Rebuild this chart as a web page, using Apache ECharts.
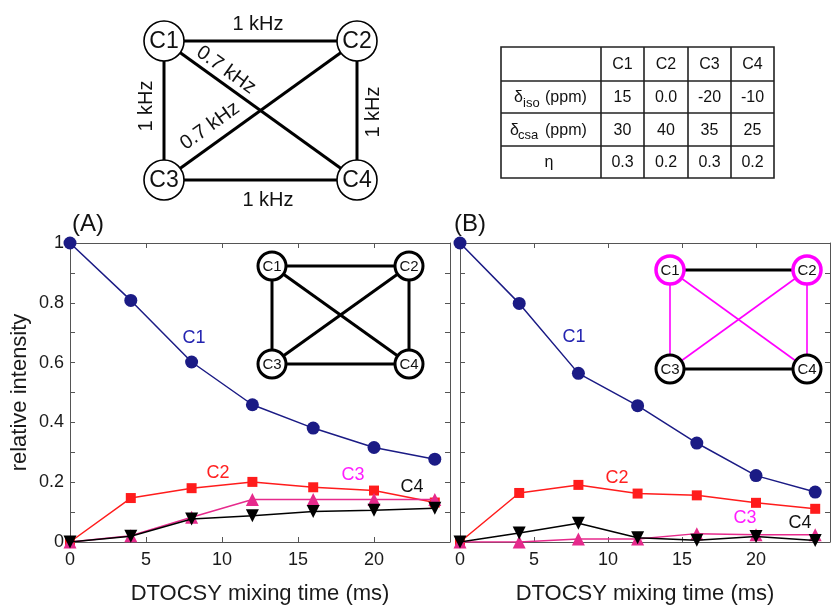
<!DOCTYPE html>
<html>
<head>
<meta charset="utf-8">
<script src="https://cdn.jsdelivr.net/npm/echarts@6/dist/echarts.min.js"></script>
<style>
  html, body { margin: 0; padding: 0; background: #fff; }
  #chart { width: 833px; height: 606px; }
</style>
</head>
<body>
<div id="chart"></div>
<script>
// Mixing times (ms)
const mixTimes = [0, 4, 8, 12, 16, 20, 24];

// Panel (A): all four couplings active
const a_C1 = [1.0, 0.808, 0.602, 0.459, 0.381, 0.316, 0.277];
const a_C2 = [0.0, 0.147, 0.180, 0.201, 0.183, 0.172, 0.132];
const a_C3 = [0.0, 0.021, 0.083, 0.142, 0.142, 0.142, 0.142];
const a_C4 = [0.0, 0.019, 0.077, 0.088, 0.102, 0.106, 0.113];

// Panel (B): selective transfer
const b_C1 = [1.0, 0.798, 0.564, 0.456, 0.331, 0.222, 0.167];
const b_C2 = [0.0, 0.164, 0.191, 0.162, 0.156, 0.131, 0.111];
const b_C3 = [0.0, 0.0, 0.010, 0.010, 0.028, 0.024, 0.024];
const b_C4 = [0.0, 0.030, 0.063, 0.014, 0.006, 0.018, 0.005];

// Table of chemical shift parameters
const spinNames = ['C1', 'C2', 'C3', 'C4'];
const deltaIso = ['15', '0.0', '-20', '-10'];
const deltaCsa = ['30', '40', '35', '25'];
const etaVals = ['0.3', '0.2', '0.3', '0.2'];

// Coupling labels for the spin network
const jLabelSide = '1 kHz';
const jLabelDiag = '0.7 kHz';

const FONT = '"Liberation Sans", Arial, Helvetica, sans-serif';
const AXIS_COLOR = '#555555';

const colors = {
  C1: '#1b1b85',
  C2: '#ff1c1c',
  C3: '#e62a8c',
  C4: '#000000'
};
const labelColors = {
  C1: '#2323b0',
  C2: '#ff2020',
  C3: '#ff1cff',
  C4: '#111111'
};

function pairs(ys) { return mixTimes.map((t, i) => [t, ys[i]]); }

function xAxes(grid, bottom) {
  const base = {
    gridIndex: grid, type: 'value', min: 0, max: 25, interval: 5,
    axisLine: { show: true, onZero: false, lineStyle: { color: AXIS_COLOR, width: 1 } },
    axisTick: { show: true, inside: true, length: 5, lineStyle: { color: AXIS_COLOR } },
    splitLine: { show: false }
  };
  return bottom ? Object.assign({}, base, {
    position: 'bottom',
    axisLabel: { fontFamily: FONT, fontSize: 18, color: '#1a1a1a', margin: 9,
      formatter: v => (v < 25 ? String(v) : '') },
    name: 'DTOCSY mixing time (ms)', nameLocation: 'middle', nameGap: 41,
    nameTextStyle: { fontFamily: FONT, fontSize: 22, color: '#1a1a1a' }
  }) : Object.assign({}, base, { position: 'top', axisLabel: { show: false } });
}

function yAxes(grid, left, withLabels) {
  const base = {
    gridIndex: grid, type: 'value', min: 0, max: 1, interval: 0.1,
    axisLine: { show: true, onZero: false, lineStyle: { color: AXIS_COLOR, width: 1 } },
    axisTick: { show: true, inside: true, length: 5, lineStyle: { color: AXIS_COLOR } },
    splitLine: { show: false }
  };
  if (!left) return Object.assign({}, base, { position: 'right', axisLabel: { show: false } });
  const ax = Object.assign({}, base, {
    position: 'left',
    axisLabel: withLabels ? {
      fontFamily: FONT, fontSize: 18, color: '#1a1a1a', margin: 6,
      formatter: v => {
        const k = Math.round(v * 10);
        return k % 2 === 0 ? String(k / 10) : '';
      }
    } : { show: false }
  });
  if (withLabels) {
    ax.name = 'relative intensity';
    ax.nameLocation = 'middle';
    ax.nameGap = 39;
    ax.nameTextStyle = { fontFamily: FONT, fontSize: 22, color: '#1a1a1a' };
  }
  return ax;
}

function seriesFor(grid, xi, yi, data) {
  const defs = [
    { key: 'C1', ys: data[0], symbol: 'circle', size: 13, rot: 0 },
    { key: 'C2', ys: data[1], symbol: 'rect', size: 10, rot: 0 },
    { key: 'C3', ys: data[2], symbol: 'triangle', size: 13, rot: 0 },
    { key: 'C4', ys: data[3], symbol: 'triangle', size: 13, rot: 180 }
  ];
  return defs.map((d, i) => ({
    name: d.key, type: 'line', xAxisIndex: xi, yAxisIndex: yi,
    data: pairs(d.ys), symbol: d.symbol, symbolSize: d.size, symbolRotate: d.rot,
    showAllSymbol: true, animation: false, z: 2 + i,
    lineStyle: { color: colors[d.key], width: 1.5 },
    itemStyle: { color: colors[d.key], borderWidth: 0 }
  }));
}

// ---------- graphic helpers ----------
const g = [];
function txt(x, y, text, size, color, opts) {
  opts = opts || {};
  g.push({
    type: 'text', x: x, y: y, rotation: opts.rotation || 0, z: 20,
    style: {
      text: text, font: size + 'px ' + FONT, fill: color || '#111',
      align: opts.align || 'center', verticalAlign: opts.va || 'middle'
    }
  });
}
function line(x1, y1, x2, y2, color, w) {
  g.push({ type: 'line', z: 18, shape: { x1, y1, x2, y2 },
    style: { stroke: color, lineWidth: w, lineCap: 'butt' } });
}
function circ(cx, cy, r, stroke, w) {
  g.push({ type: 'circle', z: 19, shape: { cx, cy, r },
    style: { fill: '#fff', stroke: stroke, lineWidth: w } });
}

// Spin network with coupling strengths
(function () {
  const p = { C1: [164, 41], C2: [357, 41], C3: [164, 180], C4: [357, 180] };
  line(p.C1[0], p.C1[1], p.C2[0], p.C2[1], '#000', 3);
  line(p.C3[0], p.C3[1], p.C4[0], p.C4[1], '#000', 3);
  line(p.C1[0], p.C1[1], p.C3[0], p.C3[1], '#000', 3);
  line(p.C2[0], p.C2[1], p.C4[0], p.C4[1], '#000', 3);
  line(p.C1[0], p.C1[1], p.C4[0], p.C4[1], '#000', 3);
  line(p.C3[0], p.C3[1], p.C2[0], p.C2[1], '#000', 3);
  spinNames.forEach(n => {
    circ(p[n][0], p[n][1], 20, '#000', 1.6);
    txt(p[n][0], p[n][1] + 1, n, 23, '#111');
  });
  const ang = Math.atan2(p.C4[1] - p.C1[1], p.C4[0] - p.C1[0]);
  txt(258, 24, jLabelSide, 20, '#111');
  txt(268, 200, jLabelSide, 20, '#111');
  txt(146, 106, jLabelSide, 20, '#111', { rotation: Math.PI / 2 });
  txt(373, 112, jLabelSide, 20, '#111', { rotation: Math.PI / 2 });
  txt(226, 70, jLabelDiag, 20, '#111', { rotation: -ang });
  txt(210, 126, jLabelDiag, 20, '#111', { rotation: ang });
})();

// Parameter table
(function () {
  const xs = [501, 601, 644, 688, 731, 774];
  const ys = [47, 81, 113, 146, 178];
  g.push({ type: 'rect', z: 18, shape: { x: xs[0], y: ys[0], width: xs[5] - xs[0], height: ys[4] - ys[0] },
    style: { fill: '#fff', stroke: '#222', lineWidth: 1.6 } });
  for (let i = 1; i < xs.length - 1; i++) line(xs[i], ys[0], xs[i], ys[4], '#222', 1.6);
  for (let j = 1; j < ys.length - 1; j++) line(xs[0], ys[j], xs[5], ys[j], '#222', 1.6);
  const rowsVals = [spinNames, deltaIso, deltaCsa, etaVals];
  rowsVals.forEach((row, j) => {
    const cy = (ys[j] + ys[j + 1]) / 2 + 1;
    row.forEach((v, i) => txt((xs[i + 1] + xs[i + 2]) / 2, cy, v, 16, '#111'));
  });
  const r2 = (ys[1] + ys[2]) / 2 + 1, r3 = (ys[2] + ys[3]) / 2 + 1, r4 = (ys[3] + ys[4]) / 2 + 1;
  txt(514, r2, 'δ', 16, '#111', { align: 'left' });
  txt(523, r2 + 5, 'iso', 13, '#111', { align: 'left' });
  txt(545, r2, '(ppm)', 16, '#111', { align: 'left' });
  txt(510, r3, 'δ', 16, '#111', { align: 'left' });
  txt(518, r3 + 5, 'csa', 13, '#111', { align: 'left' });
  txt(545, r3, '(ppm)', 16, '#111', { align: 'left' });
  txt(549, r4, 'η', 16, '#111');
})();

// Inset networks
(function () {
  const a = { C1: [272, 266], C2: [409, 266], C3: [272, 364], C4: [409, 364] };
  [['C1', 'C2'], ['C3', 'C4'], ['C1', 'C3'], ['C2', 'C4'], ['C1', 'C4'], ['C3', 'C2']].forEach(e =>
    line(a[e[0]][0], a[e[0]][1], a[e[1]][0], a[e[1]][1], '#000', 3));
  spinNames.forEach(n => { circ(a[n][0], a[n][1], 14, '#000', 3); txt(a[n][0], a[n][1] + 1, n, 15, '#111'); });

  const b = { C1: [670, 270], C2: [807, 270], C3: [670, 369], C4: [807, 369] };
  const M = '#ff00ff';
  [['C1', 'C3'], ['C2', 'C4'], ['C1', 'C4'], ['C3', 'C2']].forEach(e =>
    line(b[e[0]][0], b[e[0]][1], b[e[1]][0], b[e[1]][1], M, 1.6));
  line(b.C1[0], b.C1[1], b.C2[0], b.C2[1], '#000', 3);
  line(b.C3[0], b.C3[1], b.C4[0], b.C4[1], '#000', 3);
  circ(b.C1[0], b.C1[1], 14, M, 3.5);
  circ(b.C2[0], b.C2[1], 14, M, 3.5);
  circ(b.C3[0], b.C3[1], 14, '#000', 3);
  circ(b.C4[0], b.C4[1], 14, '#000', 3);
  spinNames.forEach(n => txt(b[n][0], b[n][1] + 1, n, 15, '#111'));
})();

// Panel letters and curve labels
txt(88, 224, '(A)', 24, '#111');
txt(470, 224, '(B)', 24, '#111');
txt(194, 338, 'C1', 18, labelColors.C1);
txt(218, 473, 'C2', 18, labelColors.C2);
txt(353, 475, 'C3', 18, labelColors.C3);
txt(412, 487, 'C4', 18, labelColors.C4);
txt(574, 337, 'C1', 18, labelColors.C1);
txt(617, 478, 'C2', 18, labelColors.C2);
txt(745, 518, 'C3', 18, labelColors.C3);
txt(800, 523, 'C4', 18, labelColors.C4);

const option = {
  backgroundColor: '#ffffff',
  animation: false,
  grid: [
    { left: 70, top: 243, width: 380, height: 300, containLabel: false },
    { left: 460, top: 243, width: 380, height: 300, containLabel: false }
  ],
  xAxis: [xAxes(0, true), xAxes(0, false), xAxes(1, true), xAxes(1, false)],
  yAxis: [yAxes(0, true, true), yAxes(0, false), yAxes(1, true, false), yAxes(1, false)],
  series: [].concat(
    seriesFor(0, 0, 0, [a_C1, a_C2, a_C3, a_C4]),
    seriesFor(1, 2, 2, [b_C1, b_C2, b_C3, b_C4])
  ),
  graphic: { elements: g }
};

const chart = echarts.init(document.getElementById('chart'), null, { renderer: 'canvas' });
chart.setOption(option);
</script>
</body>
</html>
